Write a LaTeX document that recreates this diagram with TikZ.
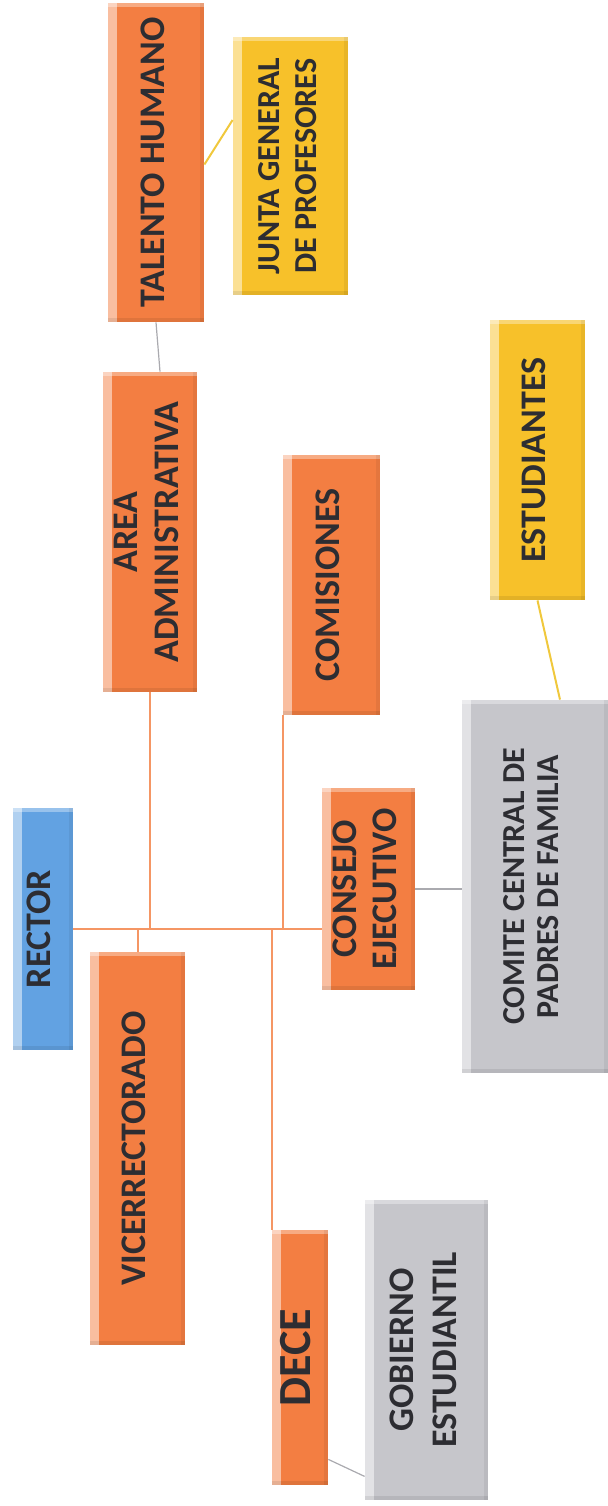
\documentclass[tikz,border=0pt]{standalone}
\usepackage{fontspec}
\setmainfont{Carlito}
\usepackage{graphicx}
\usetikzlibrary{positioning,calc}

\definecolor{orgorange}{RGB}{243,126,66}
\definecolor{orgblue}{RGB}{98,162,226}
\definecolor{orgyellow}{RGB}{247,193,42}
\definecolor{orggray}{RGB}{198,198,203}
\definecolor{orgtext}{RGB}{45,45,50}
\definecolor{orgline}{RGB}{245,150,100}
\definecolor{grayline}{RGB}{170,170,175}
\definecolor{yellowline}{RGB}{240,200,60}

\newcommand{\vlabel}[1]{\rotatebox{90}{\begin{tabular}{@{}c@{}}#1\end{tabular}}}

\begin{document}
\begin{tikzpicture}[x=0.5pt,y=-0.5pt,
  org box/.style={rectangle,inner sep=0pt,text=orgtext,
    font=\fontsize{18}{20}\selectfont\bfseries,
    path picture={
      \fill[white,opacity=0.5] (path picture bounding box.north west) rectangle ([xshift=4.5pt]path picture bounding box.south west);
      \fill[white,opacity=0.35] (path picture bounding box.north west) rectangle ([yshift=-2pt]path picture bounding box.north east);
      \fill[black,opacity=0.08] (path picture bounding box.south west) rectangle ([yshift=2pt]path picture bounding box.south east);
      \fill[black,opacity=0.06] (path picture bounding box.north east) rectangle ([xshift=-2pt]path picture bounding box.south east);}},
  orange box/.style={org box,fill=orgorange},
  blue box/.style={org box,fill=orgblue},
  yellow box/.style={org box,fill=orgyellow},
  gray box/.style={org box,fill=orggray},
  org link/.style={draw=orgline,line width=1pt},
  gray link/.style={draw=grayline,line width=0.6pt},
  yellow link/.style={draw=yellowline,line width=1pt}]

  \useasboundingbox (0,0) rectangle (608,1506);

  \node[blue box,minimum width=30pt,minimum height=121pt] (rector) at (43,929) {\vlabel{RECTOR}};
  \node[orange box,minimum width=47.5pt,minimum height=196.5pt] (vice) at (137.5,1148.5) {\vlabel{VICERRECTORADO}};
  \node[orange box,minimum width=48pt,minimum height=159.5pt] (talento) at (156,162.5) {\vlabel{TALENTO HUMANO}};
  \node[yellow box,minimum width=57.5pt,minimum height=129pt,font=\fontsize{16}{18.5}\selectfont\bfseries] (junta) at (290.5,166) {\vlabel{JUNTA GENERAL\\DE PROFESORES}};
  \node[orange box,minimum width=47pt,minimum height=160pt] (area) at (150,532) {\vlabel{AREA\\ADMINISTRATIVA}};
  \node[orange box,minimum width=48.5pt,minimum height=130pt] (comisiones) at (331.5,585) {\vlabel{COMISIONES}};
  \node[orange box,minimum width=46.5pt,minimum height=101pt] (consejo) at (368.5,889) {\vlabel{CONSEJO\\EJECUTIVO}};
  \node[yellow box,minimum width=47.5pt,minimum height=140pt] (estudiantes) at (537.5,460) {\vlabel{ESTUDIANTES}};
  \node[gray box,minimum width=73pt,minimum height=186.5pt,font=\fontsize{16}{17}\selectfont\bfseries] (comite) at (535,886.5) {\vlabel{COMITE CENTRAL DE\\PADRES DE FAMILIA}};
  \node[orange box,minimum width=28pt,minimum height=127.5pt,font=\fontsize{23}{25}\selectfont\bfseries] (dece) at (300,1357.5) {\vlabel{DECE}};
  \node[gray box,minimum width=61.5pt,minimum height=150pt,font=\fontsize{18}{21.5}\selectfont\bfseries] (gobierno) at (426.5,1350) {\vlabel{GOBIERNO\\ESTUDIANTIL}};

  % rector line and branches
  \draw[org link] (rector.east) -- (rector.east -| consejo.west);
  \draw[org link] (area.south) -- (area.south |- rector.east);
  \draw[org link] (vice.north) -- (vice.north |- rector.east);
  \draw[org link] (comisiones.south west) -- (comisiones.south west |- rector.east);
  \draw[org link] (dece.north west) -- (dece.north west |- rector.east);

  % side links
  \draw[gray link] (talento.south) -- ([xshift=5pt]area.north);
  \draw[yellow link] ([yshift=-1pt]talento.east) -- ([yshift=23pt]junta.west);
  \draw[gray link] (consejo.east) -- (consejo.east -| comite.west);
  \draw[yellow link] (estudiantes.south) -- ([xshift=12.5pt]comite.north);
  \draw[gray link] ([yshift=13pt]dece.south east) -- ([yshift=12pt]gobierno.south west);
\end{tikzpicture}
\end{document}
